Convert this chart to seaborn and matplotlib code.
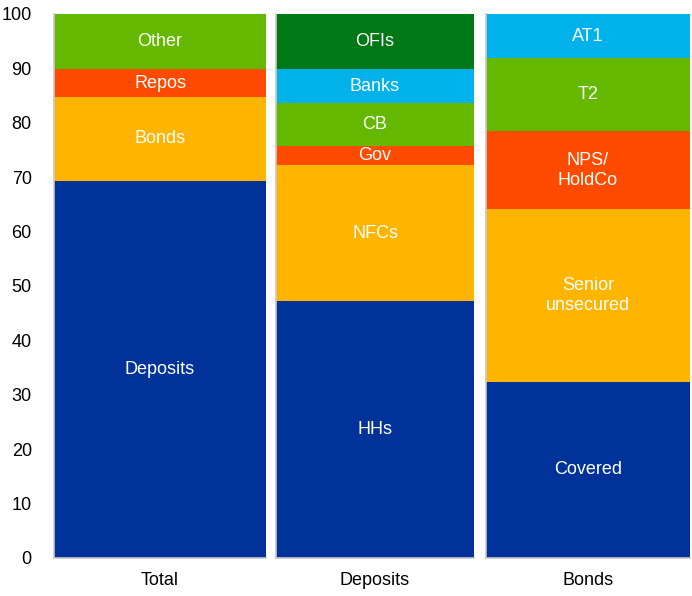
import pandas as pd
import matplotlib.pyplot as plt
import seaborn as sns

sns.set_style("white")
plt.rcParams["font.family"] = ["Liberation Sans", "DejaVu Sans"]
plt.rcParams["text.color"] = "black"
plt.rcParams["xtick.color"] = "black"
plt.rcParams["ytick.color"] = "black"

# Data (percent shares, bottom -> top)
total_labels = ["Deposits", "Bonds", "Repos", "Other"]
total_values = [69.3, 15.5, 5.0, 10.2]

deposit_labels = ["HHs", "NFCs", "Gov", "CB", "Banks", "OFIs"]
deposit_values = [47.2, 25.0, 3.5, 7.9, 6.3, 10.1]

bond_labels = ["Covered", "Senior\nunsecured", "NPS/\nHoldCo", "T2", "AT1"]
bond_values = [32.4, 31.7, 14.4, 13.4, 8.1]

panels = ["Total", "Deposits", "Bonds"]

# ECB-like palette
colors = {
    "Deposits": "#003299", "Bonds": "#FFB400", "Repos": "#FF4B00", "Other": "#65B800",
    "HHs": "#003299", "NFCs": "#FFB400", "Gov": "#FF4B00", "CB": "#65B800",
    "Banks": "#00B1EA", "OFIs": "#007816",
    "Covered": "#003299", "Senior\nunsecured": "#FFB400", "NPS/\nHoldCo": "#FF4B00",
    "T2": "#65B800", "AT1": "#00B1EA",
}

fig = plt.figure(figsize=(6.92, 5.96), dpi=100)
lefts = [54, 276, 486]
rights = [266, 474, 690]
H = 596
W = 692

panel_data = [
    (total_labels, total_values),
    (deposit_labels, deposit_values),
    (bond_labels, bond_values),
]

for i, (name, (labels, values)) in enumerate(zip(panels, panel_data)):
    ax = fig.add_axes([lefts[i] / W, 1 - 558 / H, (rights[i] - lefts[i]) / W, (558 - 14) / H])
    df = pd.DataFrame({"segment": labels, "value": values})
    df["panel"] = name
    df["top"] = df["value"].cumsum()
    df["mid"] = df["top"] - df["value"] / 2
    # overlay cumulative bars, tallest first
    order = labels[::-1]
    sns.barplot(data=df, x="panel", y="top", hue="segment", hue_order=order,
                dodge=False, palette=colors, width=1.0, saturation=1,
                legend=False, ax=ax, linewidth=0)
    for _, row in df.iterrows():
        ax.text(0, row["mid"], row["segment"], ha="center", va="center",
                color="white", fontsize=13, linespacing=1.25)
    ax.set_xlim(-0.5, 0.5)
    ax.set_ylim(0, 100)
    ax.set_xlabel("")
    ax.set_ylabel("")
    ax.tick_params(axis="x", length=0, labelsize=13, pad=10)
    for s in ["top", "right"]:
        ax.spines[s].set_visible(False)
    for s in ["left", "bottom"]:
        ax.spines[s].set_color("#C8C8C8")
        ax.spines[s].set_linewidth(1.2)
    if i == 0:
        ax.set_yticks(range(0, 101, 10))
        ax.tick_params(axis="y", length=0, labelsize=13, pad=16)
    else:
        ax.set_yticks([])

fig.savefig("out.png", dpi=100)
